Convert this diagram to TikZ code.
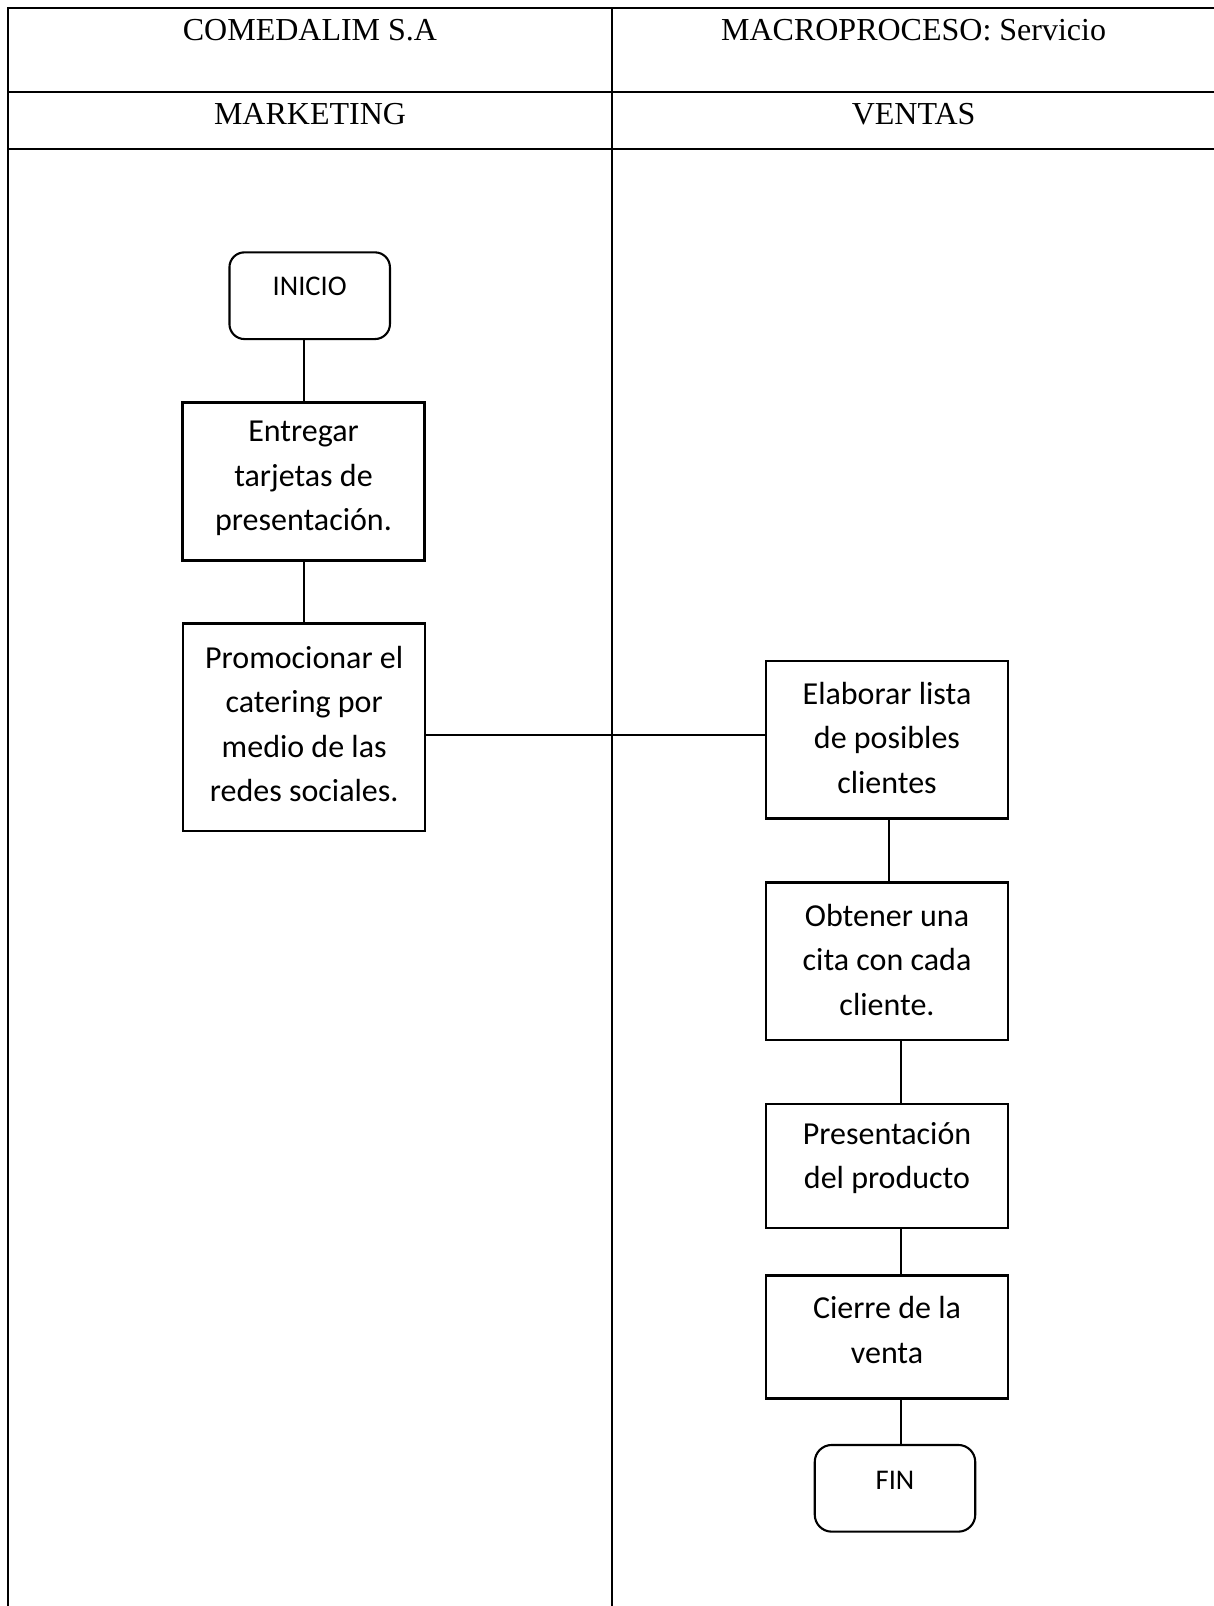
\documentclass[tikz,border=0pt]{standalone}
\usepackage{fontspec}
\setmainfont{Liberation Serif}
\newfontfamily\carlito{Carlito}
\begin{document}
\begin{tikzpicture}[x=1pt,y=-1pt,
  frame/.style={line width=2.1pt},
  hdr/.style={anchor=base,inner sep=0pt,font=\fontsize{32}{38}\selectfont},
  procbox/.style={draw,line width=2.1pt,rectangle,inner sep=0pt,minimum width=242pt},
  termbox/.style={draw,line width=2.1pt,rectangle,rounded corners=15pt,inner sep=0pt,minimum width=160.5pt,minimum height=86.7pt},
  btxt/.style={inner sep=0pt,align=center,font=\carlito\fontsize{32}{44.5}\selectfont},
  ttxt/.style={inner sep=0pt,align=center,font=\carlito\fontsize{28.5}{33}\selectfont},
  conn/.style={line width=2pt}]
\useasboundingbox (0,0) rectangle (1214,1606);
\clip (0,0) rectangle (1214,1606);
% table frame
\draw[frame] (1230,8) -- (8,8) -- (8,1630);
\draw[frame] (8,92) -- (1230,92);
\draw[frame] (8,149) -- (1230,149);
\draw[frame] (612,8) -- (612,1630);
\draw[frame] (1215.5,8) -- (1215.5,1630);
% header texts
\node[hdr] (h1) at (310,40) {COMEDALIM S.A};
\node[hdr] (h2) at (913.6,40) {MACROPROCESO: Servicio};
\node[hdr] (h3) at (310,124) {MARKETING};
\node[hdr] (h4) at (913.6,124) {VENTAS};
% boxes
\node[termbox] (ini) at (309.7,295.7) {};
\node[ttxt] (init) at (309.7,286.7) {INICIO};
\node[procbox,minimum height=158pt] (ent) at (303.5,481.5) {};
\node[btxt] (entt) at (303.5,478.5) {Entregar\\tarjetas de\\presentación.};
\node[procbox,minimum height=207.5pt] (pro) at (304.2,727.2) {};
\node[btxt] (prot) at (304.2,724) {Promocionar el\\catering por\\medio de las\\redes sociales.};
\node[procbox,minimum height=157.5pt] (ela) at (887,739.7) {};
\node[btxt] (elat) at (887,737.6) {Elaborar lista\\de posibles\\clientes};
\node[procbox,minimum height=157.5pt] (obt) at (887,961.2) {};
\node[btxt] (obtt) at (887,960) {Obtener una\\cita con cada\\cliente.};
\node[procbox,minimum height=124pt] (pre) at (887,1166) {};
\node[btxt] (pret) at (887,1158) {Presentación\\del producto};
\node[procbox,minimum height=123pt] (cie) at (887,1337) {};
\node[btxt] (ciet) at (887,1330) {Cierre de la\\venta};
\node[termbox,rounded corners=17pt] (fin) at (895,1488.3) {};
\node[ttxt] (fint) at (895,1480) {FIN};
% connectors
\draw[conn] (ent.north) -- (ent.north |- ini.south);
\draw[conn] (ent.south) -- (ent.south |- pro.north);
\draw[conn] ([yshift=-8pt]pro.east) -- ([yshift=-8pt]pro.east -| ela.west);
\draw[conn] ([xshift=1.5pt]ela.south) -- ([xshift=1.5pt]obt.north);
\draw[conn] ([xshift=14pt]obt.south) -- ([xshift=14pt]pre.north);
\draw[conn] ([xshift=14pt]pre.south) -- ([xshift=14pt]cie.north);
\draw[conn] ([xshift=14pt]cie.south) -- ([xshift=14pt]cie.south |- fin.north);
\end{tikzpicture}
\end{document}
